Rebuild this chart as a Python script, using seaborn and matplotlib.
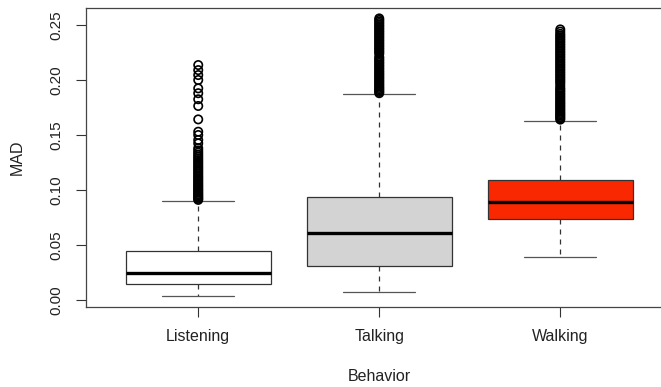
import numpy as np
import pandas as pd
import matplotlib
matplotlib.use("Agg")
import matplotlib.pyplot as plt
import seaborn as sns

# box summary values
behaviors = ["Listening", "Talking", "Walking"]
box_colors = ["white", "#d3d3d3", "#fa2800"]
whislo = [0.0036, 0.0070, 0.0391]
q1 = [0.0143, 0.0312, 0.0733]
med = [0.0242, 0.0606, 0.0894]
q3 = [0.0448, 0.0939, 0.1090]
whishi = [0.0903, 0.1873, 0.1630]

# outliers (dense runs typed out roughly)
listening_out = [0.0910, 0.0920, 0.0930, 0.0941, 0.0952, 0.0963, 0.0975, 0.0987,
                 0.0999, 0.1011, 0.1024, 0.1037, 0.1050, 0.1063, 0.1077, 0.1091,
                 0.1105, 0.1119, 0.1133, 0.1148, 0.1163, 0.1178, 0.1193, 0.1208,
                 0.1224, 0.1240, 0.1256, 0.1272, 0.1288, 0.1305, 0.1322, 0.1340,
                 0.1360, 0.1380, 0.1424, 0.1455, 0.1500, 0.1530, 0.1642, 0.1764,
                 0.1825, 0.1880, 0.1924, 0.2000, 0.2045, 0.2090, 0.2136]
talking_out = [0.1880, 0.1892, 0.1904, 0.1916, 0.1928, 0.1940, 0.1953, 0.1966,
               0.1979, 0.1992, 0.2005, 0.2018, 0.2031, 0.2044, 0.2057, 0.2070,
               0.2084, 0.2098, 0.2112, 0.2126, 0.2140, 0.2154, 0.2168, 0.2182,
               0.2196, 0.2210, 0.2238, 0.2252, 0.2266, 0.2280, 0.2294, 0.2308,
               0.2322, 0.2336, 0.2350, 0.2364, 0.2378, 0.2392, 0.2406, 0.2420,
               0.2434, 0.2448, 0.2462, 0.2476, 0.2490, 0.2504, 0.2518, 0.2532,
               0.2546, 0.2560]
walking_out = [0.1640, 0.1652, 0.1664, 0.1676, 0.1688, 0.1700, 0.1713, 0.1726,
               0.1739, 0.1752, 0.1765, 0.1778, 0.1791, 0.1804, 0.1818, 0.1832,
               0.1846, 0.1860, 0.1874, 0.1888, 0.1902, 0.1916, 0.1930, 0.1950,
               0.1970, 0.1985, 0.2000, 0.2015, 0.2030, 0.2045, 0.2060, 0.2075,
               0.2090, 0.2105, 0.2120, 0.2135, 0.2150, 0.2165, 0.2180, 0.2195,
               0.2210, 0.2225, 0.2240, 0.2255, 0.2270, 0.2285, 0.2300, 0.2315,
               0.2330, 0.2345, 0.2360, 0.2375, 0.2390, 0.2405, 0.2420, 0.2440,
               0.2460]

sns.set_style("ticks")
plt.rcParams["font.family"] = ["Liberation Sans", "DejaVu Sans"]

fig = plt.figure(figsize=(6.61, 3.87), dpi=100)
ax = fig.add_axes([0.1301, 0.2067, 0.8873, 0.7726])

out = pd.DataFrame({
    "Behavior": ["Listening"] * len(listening_out) + ["Talking"] * len(talking_out)
                + ["Walking"] * len(walking_out),
    "MAD": listening_out + talking_out + walking_out,
})
sns.stripplot(data=out, x="Behavior", y="MAD", order=behaviors, jitter=False,
              color="black", edgecolor="black", linewidth=1.2, size=6.0, ax=ax, zorder=3)
for c in ax.collections:
    c.set_facecolor("none")

stats = []
for i in range(3):
    stats.append(dict(med=med[i], q1=q1[i], q3=q3[i], whislo=whislo[i],
                      whishi=whishi[i], fliers=[]))
bp = ax.bxp(stats, positions=[0, 1, 2], widths=0.8, patch_artist=True, showfliers=False,
            boxprops=dict(edgecolor="#333333", linewidth=0.9),
            whiskerprops=dict(color="#333333", linewidth=0.9, linestyle=(0, (4, 4))),
            capprops=dict(color="#555555", linewidth=0.9),
            medianprops=dict(color="black", linewidth=2.4))
for patch, col in zip(bp["boxes"], box_colors):
    patch.set_facecolor(col)

ax.set_xlim(-0.62, 2.62)
ax.set_ylim(-0.00636, 0.26545)
ax.set_xticks([0, 1, 2])
ax.set_xticklabels(behaviors)
ax.set_yticks([0, 0.05, 0.10, 0.15, 0.20, 0.25])
ax.set_yticklabels(["0.00", "0.05", "0.10", "0.15", "0.20", "0.25"], rotation=90, va="center")
ax.tick_params(axis="both", direction="out", length=7, width=0.8, color="#333333",
               labelcolor="#222222")
ax.tick_params(axis="y", labelsize=11, pad=9)
ax.tick_params(axis="x", labelsize=11.5, pad=9)
for s in ax.spines.values():
    s.set_color("#444444")
    s.set_linewidth(0.9)
ax.spines["right"].set_visible(False)
ax.set_xlabel("Behavior", fontsize=11.5, labelpad=18, color="#222222")
ax.set_ylabel("MAD", fontsize=11.5, labelpad=18, color="#222222")

fig.savefig("out.png", dpi=100)
